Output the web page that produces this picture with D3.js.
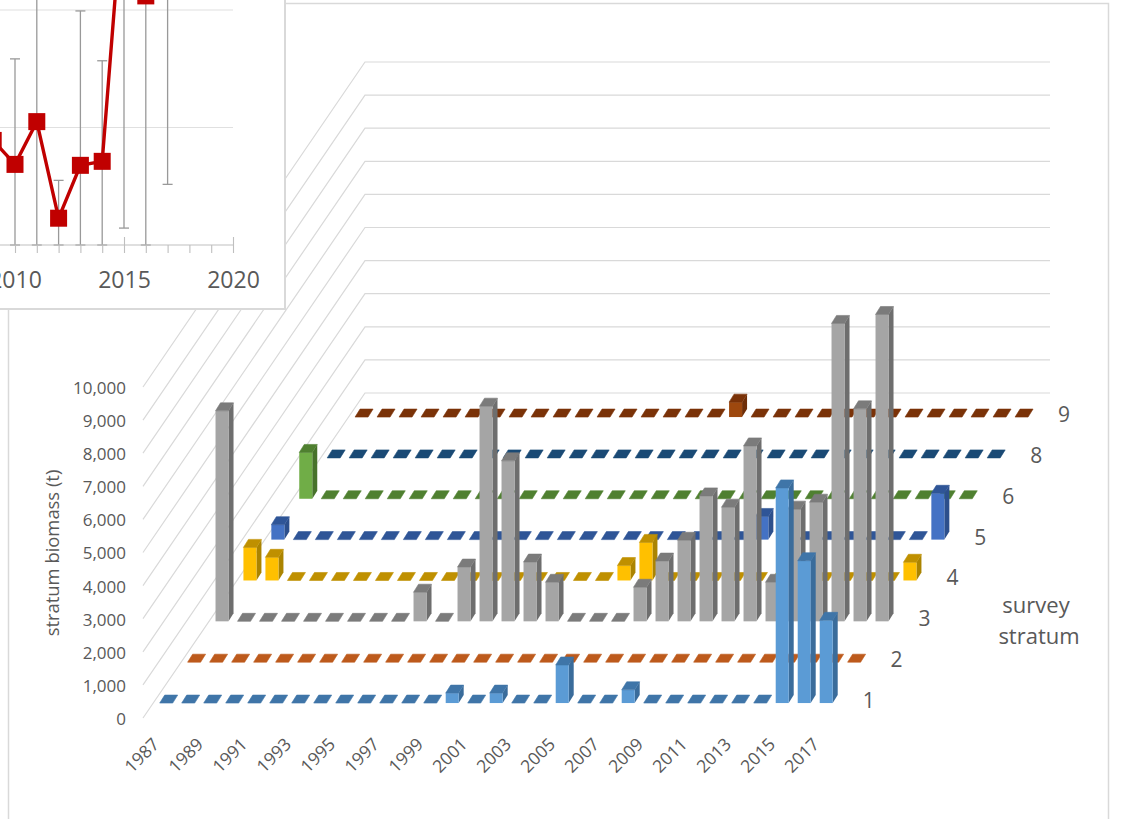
<!DOCTYPE html>
<html>

<head>
    <meta charset="utf-8">
    <script src="https://d3js.org/d3.v7.min.js"></script>
    <style>
        body { margin: 0; background: #fff; }
        svg { display: block; }
        text { font-family: "Open Sans", sans-serif; fill: #595959; }
    </style>
</head>

<body>
    <div id="area1"></div>

    <script>
        // main chart data, one array per survey stratum, 1987 to 2017
        var years = d3.range(1987, 2018);
        var yearTicks = [1987, 1989, 1991, 1993, 1995, 1997, 1999, 2001, 2003, 2005, 2007, 2009, 2011, 2013, 2015, 2017];
        var valueTicks = [0, 1000, 2000, 3000, 4000, 5000, 6000, 7000, 8000, 9000, 10000];
        var strata = ["1", "2", "3", "4", "5", "6", "8", "9"];

        var stratum1 = [0,0,0,0,0,0,0,0,0,0,0,0,0,300,0,300,0,0,1150,0,0,400,0,0,0,0,0,0,6500,4300,2500];
        var stratum2 = [0,0,0,0,0,0,0,0,0,0,0,0,0,0,0,0,0,0,0,0,0,0,0,0,0,0,0,0,0,0,0];
        var stratum3 = [6360,0,0,0,0,0,0,0,0,880,0,1640,6500,4850,1790,1180,0,0,0,1030,1820,2450,3790,3450,5300,1180,3390,3600,9000,6420,9270];
        var stratum4 = [1000,700,0,0,0,0,0,0,0,0,0,0,0,0,0,0,0,450,1150,0,0,0,0,0,0,0,0,0,0,0,550];
        var stratum5 = [450,0,0,0,0,0,0,0,0,0,0,0,0,0,0,0,0,0,0,0,0,0,700,0,0,0,0,0,0,0,1400];
        var stratum6 = [1400,0,0,0,0,0,0,0,0,0,0,0,0,0,0,0,0,0,0,0,0,0,0,0,0,0,0,0,0,0,0];
        var stratum8 = [0,0,0,0,0,0,0,0,0,0,0,0,0,0,0,0,0,0,0,0,0,0,0,0,0,0,0,0,0,0,0];
        var stratum9 = [0,0,0,0,0,0,0,0,0,0,0,0,0,0,0,0,0,450,0,0,0,0,0,0,0,0,0,0,0,0,0];
        var strataValues = [stratum1, stratum2, stratum3, stratum4, stratum5, stratum6, stratum8, stratum9];

        // inset chart data, cut off by the panel edges
        var insetYears = [2009, 2010, 2011, 2012, 2013, 2014, 2015, 2016];
        var insetValues = [4450, 3430, 5250, 1140, 3390, 3560, 15300, 10600];
        var errorYears = [2010, 2011, 2012, 2013, 2014, 2015, 2016, 2017];
        var errorHigh = [7920, 20000, 2750, 9960, 7840, 20000, 20000, 20000];
        var errorLow = [0, 0, 0, 0, 0, 720, 0, 2580];
        var insetGrid = [5000, 10000];
        var insetTicks = d3.range(2010, 2021);
        var insetLabels = [2010, 2015, 2020];

        var fronts = ["#5b9bd5", "#ed7d31", "#a5a5a5", "#ffc000", "#4472c4", "#70ad47", "#255e91", "#9e480e"];
        var tops = ["#3f75a8", "#bd5a1c", "#7b7b7b", "#bf9000", "#2f5597", "#4f8030", "#1a4a75", "#7a3208"];
        var sides = ["#3a6c9b", "#ae5321", "#6e6e6e", "#ab8400", "#2c4f8c", "#47722b", "#174368", "#6e2e08"];

        var w = 1121, h = 819;
        var svg = d3.select("#area1").append("svg").attr("width", w).attr("height", h);

        svg.append("rect")
            .attr("x", 8.5).attr("y", 3.5).attr("width", 1100).attr("height", 860)
            .style("fill", "none").style("stroke", "#d9d9d9").style("stroke-width", 1.5);

        genMain();
        genInset();

        function genMain() {
            var floorDx = 222, floorDy = -325, barDx = 5, barDy = -8;

            var xScale = d3.scaleBand().domain(years).range([145, 145 + 31 * 22]).paddingInner(9 / 22).paddingOuter(4.5 / 22);
            var yScale = d3.scaleLinear().domain([0, 10000]).range([718, 387]);
            var depthScale = d3.scalePoint().domain(strata).range([0.046, 0.926]);

            // walls
            var grid = svg.append("g").style("stroke", "#d9d9d9").style("stroke-width", 1.2).style("fill", "none");
            grid.selectAll("polyline").data(valueTicks).enter().append("polyline")
                .attr("points", function(d) {
                    var y = yScale(d);
                    return [[143, y], [143 + floorDx, y + floorDy], [1050, y + floorDy]].join(" ");
                });

            // value axis
            var yAxis = d3.axisLeft(yScale).tickValues(valueTicks).tickSize(0).tickPadding(0).tickFormat(d3.format(","));
            var yG = svg.append("g").attr("transform", "translate(126,1)").call(yAxis);
            yG.select(".domain").remove();
            yG.selectAll("text").style("font-size", "17px").style("font-family", "'Open Sans', sans-serif").style("fill", "#595959");

            // year axis
            var xAxis = d3.axisBottom(xScale).tickValues(yearTicks).tickSize(0);
            var xG = svg.append("g").attr("transform", "translate(0,733)").call(xAxis);
            xG.select(".domain").remove();
            xG.selectAll("text")
                .attr("y", 0).attr("dy", "0.35em")
                .attr("transform", "translate(0,8) rotate(-45)")
                .style("text-anchor", "end")
                .style("font-size", "17.5px").style("font-family", "'Open Sans', sans-serif").style("fill", "#595959");

            svg.append("text")
                .attr("transform", "translate(59,553) rotate(-90)")
                .style("text-anchor", "middle").style("font-size", "18.4px")
                .text("stratum biomass (t)");

            // bars from the back row to the front row
            var rows = d3.range(strata.length).reverse();
            rows.forEach(function(r) {
                var f = depthScale(strata[r]);
                var g = svg.append("g").attr("transform", "translate(" + (f * floorDx) + "," + (f * floorDy) + ")");
                var bars = g.selectAll("g").data(strataValues[r]).enter().append("g");
                var bw = xScale.bandwidth();

                bars.append("polygon")
                    .attr("points", function(d, i) {
                        var x = xScale(years[i]) + bw, y = yScale(d), b = yScale(0);
                        return [[x, y], [x + barDx, y + barDy], [x + barDx, b + barDy], [x, b]].join(" ");
                    })
                    .style("fill", sides[r]);
                bars.append("rect")
                    .attr("x", function(d, i) { return xScale(years[i]); })
                    .attr("y", function(d) { return yScale(d); })
                    .attr("width", bw)
                    .attr("height", function(d) { return yScale(0) - yScale(d); })
                    .style("fill", fronts[r]);
                bars.append("polygon")
                    .attr("points", function(d, i) {
                        var x = xScale(years[i]), y = yScale(d);
                        return [[x, y], [x + bw, y], [x + bw + barDx, y + barDy], [x + barDx, y + barDy]].join(" ");
                    })
                    .style("fill", tops[r])
                    .style("stroke", tops[r]).style("stroke-width", 0.6);

                // stratum label at the end of the row
                g.append("text")
                    .attr("x", xScale(2017) + bw + 36)
                    .attr("y", yScale(0) + 5)
                    .style("font-size", "21px").style("text-anchor", "middle")
                    .text(strata[r]);
            });

            svg.append("text").attr("x", 1036).attr("y", 613).style("text-anchor", "middle").style("font-size", "22px").text("survey");
            svg.append("text").attr("x", 1039).attr("y", 644).style("text-anchor", "middle").style("font-size", "22px").text("stratum");
        }

        function genInset() {
            var x = d3.scaleLinear().domain([2010, 2020]).range([15, 233]);
            var y = d3.scaleLinear().domain([0, 10000]).range([245, 10]);
            var g = svg.append("g");

            g.append("rect")
                .attr("x", -4).attr("y", -4).attr("width", 289).attr("height", 313)
                .style("fill", "#fff").style("stroke", "#d9d9d9").style("stroke-width", 2);

            g.selectAll(".grid").data(insetGrid).enter().append("line")
                .attr("class", "grid")
                .attr("x1", 0).attr("x2", x(2020))
                .attr("y1", function(d) { return y(d); })
                .attr("y2", function(d) { return y(d); })
                .style("stroke", "#e0e0e0").style("stroke-width", 1.2);

            // error bars
            var err = g.selectAll(".err").data(errorYears).enter().append("g").attr("class", "err");
            err.append("line")
                .attr("x1", function(d) { return x(d); })
                .attr("x2", function(d) { return x(d); })
                .attr("y1", function(d, i) { return y(errorHigh[i]); })
                .attr("y2", function(d, i) { return y(errorLow[i]); });
            err.append("line")
                .attr("x1", function(d) { return x(d) - 5; })
                .attr("x2", function(d) { return x(d) + 5; })
                .attr("y1", function(d, i) { return y(errorHigh[i]); })
                .attr("y2", function(d, i) { return y(errorHigh[i]); });
            err.append("line")
                .attr("x1", function(d) { return x(d) - 5; })
                .attr("x2", function(d) { return x(d) + 5; })
                .attr("y1", function(d, i) { return y(errorLow[i]); })
                .attr("y2", function(d, i) { return y(errorLow[i]); });
            err.selectAll("line").style("stroke", "#999").style("stroke-width", 1.3);

            // axis with a longer mark at every labelled year
            var axis = d3.axisBottom(x).tickValues(insetTicks).tickSize(8).tickPadding(19)
                .tickFormat(function(d) { return insetLabels.indexOf(d) >= 0 ? d : ""; });
            var ax = g.append("g").attr("transform", "translate(0,245)").call(axis);
            ax.select(".domain").attr("d", "M0,0H" + x(2020)).style("stroke", "#bfbfbf").style("stroke-width", 1.2);
            ax.selectAll(".tick line").style("stroke", "#bfbfbf").style("stroke-width", 1.1);
            ax.selectAll(".tick text").style("font-size", "23px").style("font-family", "'Open Sans', sans-serif").style("fill", "#595959");
            ax.selectAll(".tick").filter(function(d) { return d >= 2015 && insetLabels.indexOf(d) >= 0; })
                .select("line").attr("y1", -8);

            var line = d3.line()
                .x(function(d) { return x(d); })
                .y(function(d, i) { return y(insetValues[i]); });
            g.append("path").datum(insetYears).attr("d", line)
                .style("fill", "none").style("stroke", "#c00000").style("stroke-width", 3.4);

            g.selectAll(".pt").data(insetYears).enter().append("rect")
                .attr("class", "pt")
                .attr("x", function(d) { return x(d) - 8.5; })
                .attr("y", function(d, i) { return y(insetValues[i]) - 8.5; })
                .attr("width", 17).attr("height", 17)
                .style("fill", "#c00000");
        }
    </script>
</body>

</html>
